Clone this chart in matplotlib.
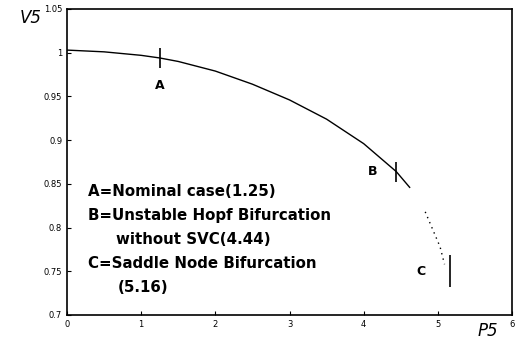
import matplotlib
matplotlib.use('Agg')
import matplotlib.pyplot as plt

# P-V curve values

p_solid = [0.0, 0.5, 1.0, 1.25, 1.5, 2.0, 2.5, 3.0, 3.5, 4.0, 4.44, 4.62]
v_solid = [1.003, 1.001, 0.997, 0.994, 0.990, 0.979, 0.964, 0.946, 0.924, 0.896, 0.864, 0.846]

p_dotted = [4.83, 4.88, 4.93, 4.98, 5.03, 5.06, 5.09]
v_dotted = [0.818, 0.808, 0.798, 0.788, 0.778, 0.768, 0.758]

mark_p = [1.25, 4.44, 5.16]
mark_lo = [0.983, 0.852, 0.732]
mark_hi = [1.005, 0.875, 0.769]
mark_names = ['A', 'B', 'C']
name_pos = [(1.25, 0.963), (4.12, 0.864), (4.77, 0.750)]

x_ticks = [0, 1, 2, 3, 4, 5, 6]
y_ticks = [0.7, 0.75, 0.8, 0.85, 0.9, 0.95, 1.0, 1.05]
y_labels = ['0.7', '0.75', '0.8', '0.85', '0.9', '0.95', '1', '1.05']

notes = ['A=Nominal case(1.25)',
         'B=Unstable Hopf Bifurcation',
         'without SVC(4.44)',
         'C=Saddle Node Bifurcation',
         '(5.16)']
note_x = [0.28, 0.28, 0.66, 0.28, 0.69]

fig = plt.figure(figsize=(5.15, 3.42), dpi=100)
ax = fig.add_axes([67 / 515, 27 / 342, 445 / 515, 306 / 342])

ax.plot(p_solid, v_solid, color='black', lw=1.0)
ax.plot(p_dotted, v_dotted, color='black', lw=1.0, linestyle=(0, (1, 3)))

for p, lo, hi in zip(mark_p, mark_lo, mark_hi):
    ax.vlines(p, lo, hi, color='black', lw=1.2)

for name, (px, py) in zip(mark_names, name_pos):
    ax.text(px, py, name, fontsize=9, fontweight='bold', ha='center', va='center')

for i, (line, nx) in enumerate(zip(notes, note_x)):
    ax.text(nx, 0.841 - i * 0.0275, line, fontsize=10.8, fontweight='bold',
            ha='left', va='center')

ax.set_xlim(0, 6)
ax.set_ylim(0.7, 1.05)
ax.set_xticks(x_ticks)
ax.set_yticks(y_ticks)
ax.set_yticklabels(y_labels)
ax.tick_params(direction='in', length=3, labelsize=6, width=0.8)

fig.text(20 / 515, 1 - 18 / 342, 'V5', fontsize=12, style='italic', ha='left', va='center')
fig.text(478 / 515, 1 - 331 / 342, 'P5', fontsize=12, style='italic', ha='left', va='center')

for s in ax.spines.values():
    s.set_linewidth(1.2)

fig.savefig('out.png', dpi=100)
